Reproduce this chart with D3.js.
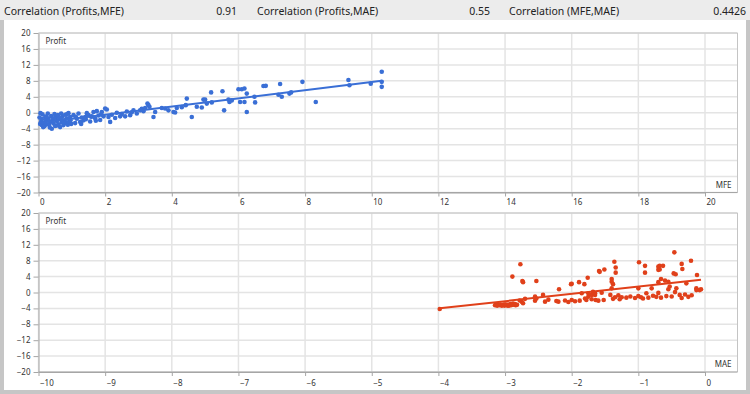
<!DOCTYPE html>
<html>
<head>
<meta charset="utf-8">
<script src="https://cdn.jsdelivr.net/npm/d3@7"></script>
<style>
  body { margin: 0; background: #c6c6c6; }
  svg { display: block; font-family: "Noto Sans", "Open Sans", sans-serif; }
</style>
</head>
<body>
<svg id="chart" width="750" height="394"></svg>
<script>
// Header: correlation labels and values
const corrLabels = ["Correlation (Profits,MFE)", "Correlation (Profits,MAE)", "Correlation (MFE,MAE)"];
const corrValues = ["0.91", "0.55", "0.4426"];

// Axis ticks
const profitTicks = [-20, -16, -12, -8, -4, 0, 4, 8, 12, 16, 20];
const mfeTicks = [0, 2, 4, 6, 8, 10, 12, 14, 16, 18, 20];
const maeTicks = [-10, -9, -8, -7, -6, -5, -4, -3, -2, -1, 0];

// Trades: [MFE, Profit]
const mfePoints = [
  [0.05,-2.8],[0.08,-2.2],[0.1,-3.1],[0.1,-1.6],[0.12,-0.4],[0.15,-2.5],[0.18,-3.4],[0.2,-1.1],
  [0.22,-2.0],[0.25,-2.9],[0.28,-0.2],[0.3,-1.5],[0.32,-3.0],[0.35,-2.3],[0.38,-0.8],[0.4,-4.0],
  [0.42,-1.8],[0.45,-2.7],[0.48,-0.3],[0.5,-3.3],[0.52,-1.2],[0.55,-2.1],[0.58,-0.6],[0.6,-2.9],
  [0.62,-1.6],[0.65,-3.6],[0.68,-0.2],[0.7,-2.4],[0.72,-1.0],[0.75,-3.1],[0.78,-1.9],[0.8,-0.5],
  [0.82,-2.6],[0.85,-1.4],[0.88,-3.0],[0.9,-0.1],[0.92,-2.2],[0.95,-1.05],[0.98,-2.8],[0.03,-1.2],
  [0.06,-0.1],[0.14,-3.6],[0.24,-0.9],[0.34,-3.7],[0.46,-1.4],[0.56,-3.2],[0.66,-1.3],[0.76,-2.2],
  [0.86,-0.3],[0.96,-1.9],
  [1.05,-0.6],[1.1,-2.6],[1.15,-1.5],[1.2,-0.2],[1.25,-2.3],[1.3,-1.2],[1.35,-1.9],[1.4,-1.05],
  [1.45,-0.1],[1.5,-0.6],[1.55,-2.2],[1.6,-0.9],[1.65,0.2],[1.7,-1.4],[1.75,0.4],[1.8,-0.7],
  [1.85,-1.8],[1.9,0.2],[1.95,-0.9],[2.0,1.05],[1.12,-1.0],[1.28,-2.8],[1.42,-1.6],[1.58,-1.0],
  [1.72,-2.0],[1.88,-0.4],
  [2.05,0.8],[2.1,-1.05],[2.15,-2.3],[2.2,-0.5],[2.3,-1.3],[2.35,0.0],[2.45,-0.9],[2.5,-0.3],
  [2.6,-0.9],[2.65,0.3],[2.75,-0.6],[2.8,0.1],[2.85,0.6],[2.95,-0.2],[3.05,0.6],[3.1,1.0],
  [3.15,0.4],[3.2,1.2],[3.27,2.3],[3.3,1.9],[3.33,1.5],[3.45,-1.05],[3.5,0.2],[3.7,1.2],
  [3.8,1.05],[3.9,0.6],[4.05,0.2],[4.1,0.05],[4.15,1.2],[4.3,1.4],[4.42,1.9],[4.45,3.55],
  [4.6,-1.05],[4.75,1.5],[4.9,1.3],[4.95,3.3],
  [5.0,3.3],[5.05,2.3],[5.18,5.1],[5.2,2.6],[5.52,5.4],[5.57,0.6],[5.7,3.3],[5.73,2.7],
  [5.8,3.1],[6.0,5.9],[6.05,2.7],[6.1,5.9],[6.18,6.1],[6.18,2.7],[6.25,4.8],[6.25,0.2],
  [6.48,4.0],[6.5,2.6],[6.75,6.7],[6.82,6.75],
  [7.2,4.5],[7.25,7.2],[7.3,4.0],[7.53,4.8],[7.58,5.1],[7.92,7.75],[8.32,2.7],[9.3,8.2],
  [9.33,6.9],[9.97,7.3],[10.3,10.3],[10.3,7.75],[10.3,6.5]
];

// Trades: [MAE, Profit]
const maePoints = [
  [-3.98,-4.15],
  [-3.15,-3.2],[-3.1,-3.1],[-3.05,-3.3],[-3.02,-3.0],[-2.98,-3.2],[-2.95,-3.1],[-2.92,-2.9],
  [-2.9,-3.1],[-2.88,-2.8],[-3.12,-3.3],[-3.08,-3.2],[-3.0,-3.1],[-2.96,-3.3],[-2.86,-3.0],
  [-2.84,-3.2],[-3.14,-3.0],[-3.11,-3.2],[-3.07,-3.0],[-3.04,-3.2],[-3.01,-3.3],[-2.99,-3.0],
  [-2.97,-3.1],[-2.94,-3.3],[-2.91,-3.2],[-2.87,-3.1],[-2.85,-2.9],[-2.82,-3.1],
  [-2.89,4.0],[-2.77,7.1],[-2.74,2.9],[-2.73,2.6],[-2.53,2.9],[-2.75,-2.3],[-2.73,-2.7],
  [-2.78,-2.0],[-2.7,-1.6],[-2.55,-1.05],[-2.55,-2.05],[-2.53,-1.5],[-2.43,-0.6],[-2.4,-2.3],
  [-2.35,-1.8],[-2.23,-2.15],[-2.2,-2.3],[-2.19,0.8],[-2.1,-2.0],[-2.05,-2.4],[-2.0,-1.9],
  [-1.95,-2.2],[-2.01,2.1],[-2.0,2.2],[-1.89,2.6],[-1.81,2.1],[-1.76,3.7],[-1.59,5.4],
  [-1.88,-2.05],[-1.78,-1.9],[-1.75,-1.05],[-1.7,-0.6],[-1.68,0.2],[-1.65,-0.2],[-1.64,-1.9],
  [-1.85,-0.2],[-1.8,-1.5],[-1.75,-0.2],[-1.7,-1.7],[-1.65,-0.6],[-1.6,-2.05],[-1.55,-0.05],
  [-1.52,-1.9],[-1.42,-0.6],[-1.4,1.05],[-1.38,-1.6],[-1.35,-1.2],[-1.3,-0.7],[-1.28,-1.7],
  [-1.25,-1.2],[-1.18,-1.3],[-1.12,-1.0],[-1.05,-1.4],[-1.0,-0.9],[-0.96,-1.2],[-0.93,-1.5],
  [-0.88,-0.2],[-0.85,-1.3],[-0.78,-0.8],[-0.73,-1.1],[-0.7,-0.1],[-0.66,-1.3],[-0.58,-0.9],
  [-0.55,0.8],[-0.5,-1.0],[-0.45,0.1],[-0.38,-0.6],[-0.35,-1.4],[-0.3,-0.5],[-0.25,-1.1],
  [-0.2,-0.7],[-0.13,0.6],
  [-1.58,5.2],[-1.51,5.8],[-1.4,3.4],[-1.4,2.7],[-1.38,2.1],[-1.36,7.75],[-1.34,6.3],[-1.34,5.0],
  [-0.99,7.6],[-0.9,6.7],[-0.9,5.0],[-0.68,6.7],[-0.63,6.7],[-0.7,6.5],[-0.7,5.7],[-0.68,5.8],
  [-0.7,2.6],[-0.66,3.4],[-0.6,3.0],[-0.55,2.7],
  [-0.46,10.1],[-0.21,8.0],[-0.35,7.2],[-0.34,5.9],[-0.12,4.4],[-0.47,4.8],[-0.44,4.6],
  [-1.0,1.05],[-0.8,1.05],[-0.53,1.5],[-0.43,1.05],[-0.28,2.3],[-0.13,1.05],[-0.08,0.6],[-0.06,0.8]
];

const blue = "#3a6fd6";
const red = "#e0401a";

const svg = d3.select("#chart");

// Frame and header
svg.append("rect").attr("width", 750).attr("height", 394).attr("fill", "#c6c6c6");
svg.append("rect").attr("x", 4).attr("y", 20).attr("width", 742).attr("height", 370).attr("fill", "#ffffff");
svg.append("rect").attr("width", 750).attr("height", 20).attr("fill", "#ececec");

const headerX = [[4, 237], [257, 490], [509, 746]];
corrLabels.forEach((label, i) => {
  svg.append("text").attr("x", headerX[i][0]).attr("y", 15)
    .attr("font-size", 10.5).attr("fill", "#222").text(label);
  svg.append("text").attr("x", headerX[i][1]).attr("y", 15)
    .attr("font-size", 10.5).attr("fill", "#222").attr("text-anchor", "end").text(corrValues[i]);
});

// Least squares line through the points
function fitLine(points) {
  const mx = d3.mean(points, d => d[0]);
  const my = d3.mean(points, d => d[1]);
  const sxy = d3.sum(points, d => (d[0] - mx) * (d[1] - my));
  const sxx = d3.sum(points, d => (d[0] - mx) * (d[0] - mx));
  const slope = sxy / sxx;
  const [x0, x1] = d3.extent(points, d => d[0]);
  return [[x0, my + slope * (x0 - mx)], [x1, my + slope * (x1 - mx)]];
}

function drawPanel(opts) {
  const left = 38.5, right = 737.5, xEnd = 705;
  const x = d3.scaleLinear().domain(opts.xDomain).range([left, xEnd]);
  const y = d3.scaleLinear().domain([-20, 20]).range([opts.bottom, opts.top]);
  const g = svg.append("g");

  // Gridlines
  g.selectAll(".hgrid").data(profitTicks).join("line")
    .attr("x1", left).attr("x2", right)
    .attr("y1", d => y(d)).attr("y2", d => y(d))
    .attr("stroke", "#e4e4e4").attr("stroke-width", 1.5);
  g.selectAll(".vgrid").data(opts.xTicks).join("line")
    .attr("x1", d => x(d)).attr("x2", d => x(d))
    .attr("y1", opts.top).attr("y2", opts.bottom)
    .attr("stroke", "#e4e4e4").attr("stroke-width", 1.5);

  // Plot border (top and right)
  g.append("path")
    .attr("d", `M${left},${opts.top}H${right}V${opts.bottom}`)
    .attr("fill", "none").attr("stroke", "#c4c4c4");

  // Axes
  const yAxis = g.append("g").attr("transform", `translate(${left},0)`)
    .call(d3.axisLeft(y).tickValues(profitTicks).tickSize(5).tickPadding(3).tickSizeOuter(0));
  const xAxis = g.append("g").attr("transform", `translate(0,${opts.bottom})`)
    .call(d3.axisBottom(x).tickValues(opts.xTicks).tickSize(4).tickSizeOuter(0));
  xAxis.selectAll("text").attr("text-anchor", "start").attr("x", 1).attr("y", opts.labelOffset);
  [yAxis, xAxis].forEach(a => {
    a.select(".domain").attr("stroke", "#a6a6a6");
    a.selectAll(".tick line").attr("stroke", "#a6a6a6");
    a.selectAll("text").attr("fill", "#333").attr("font-size", 8).attr("font-family", "Noto Sans");
  });
  g.append("line").attr("x1", left).attr("x2", right)
    .attr("y1", opts.bottom).attr("y2", opts.bottom).attr("stroke", "#a6a6a6");

  // Axis titles
  g.append("text").attr("x", left + 7).attr("y", opts.top + 11)
    .attr("font-size", 8).attr("fill", "#333").text("Profit");
  g.append("text").attr("x", right - 6).attr("y", opts.bottom - 5)
    .attr("font-size", 8).attr("fill", "#333").attr("text-anchor", "end").text(opts.xTitle);

  // Points
  g.selectAll("circle").data(opts.points).join("circle")
    .attr("cx", d => x(d[0])).attr("cy", d => y(d[1]))
    .attr("r", 2.3).attr("fill", opts.color);

  // Trend line
  g.append("path").datum(fitLine(opts.points))
    .attr("d", d3.line().x(d => x(d[0])).y(d => y(d[1])))
    .attr("stroke", opts.color).attr("stroke-width", 2).attr("fill", "none");
}

drawPanel({ top: 33, bottom: 192.5, xDomain: [0, 20], xTicks: mfeTicks,
  points: mfePoints, color: blue, xTitle: "MFE", labelOffset: 6.5 });
drawPanel({ top: 213, bottom: 372, xDomain: [-10, 0], xTicks: maeTicks,
  points: maePoints, color: red, xTitle: "MAE", labelOffset: 8 });
</script>
</body>
</html>
